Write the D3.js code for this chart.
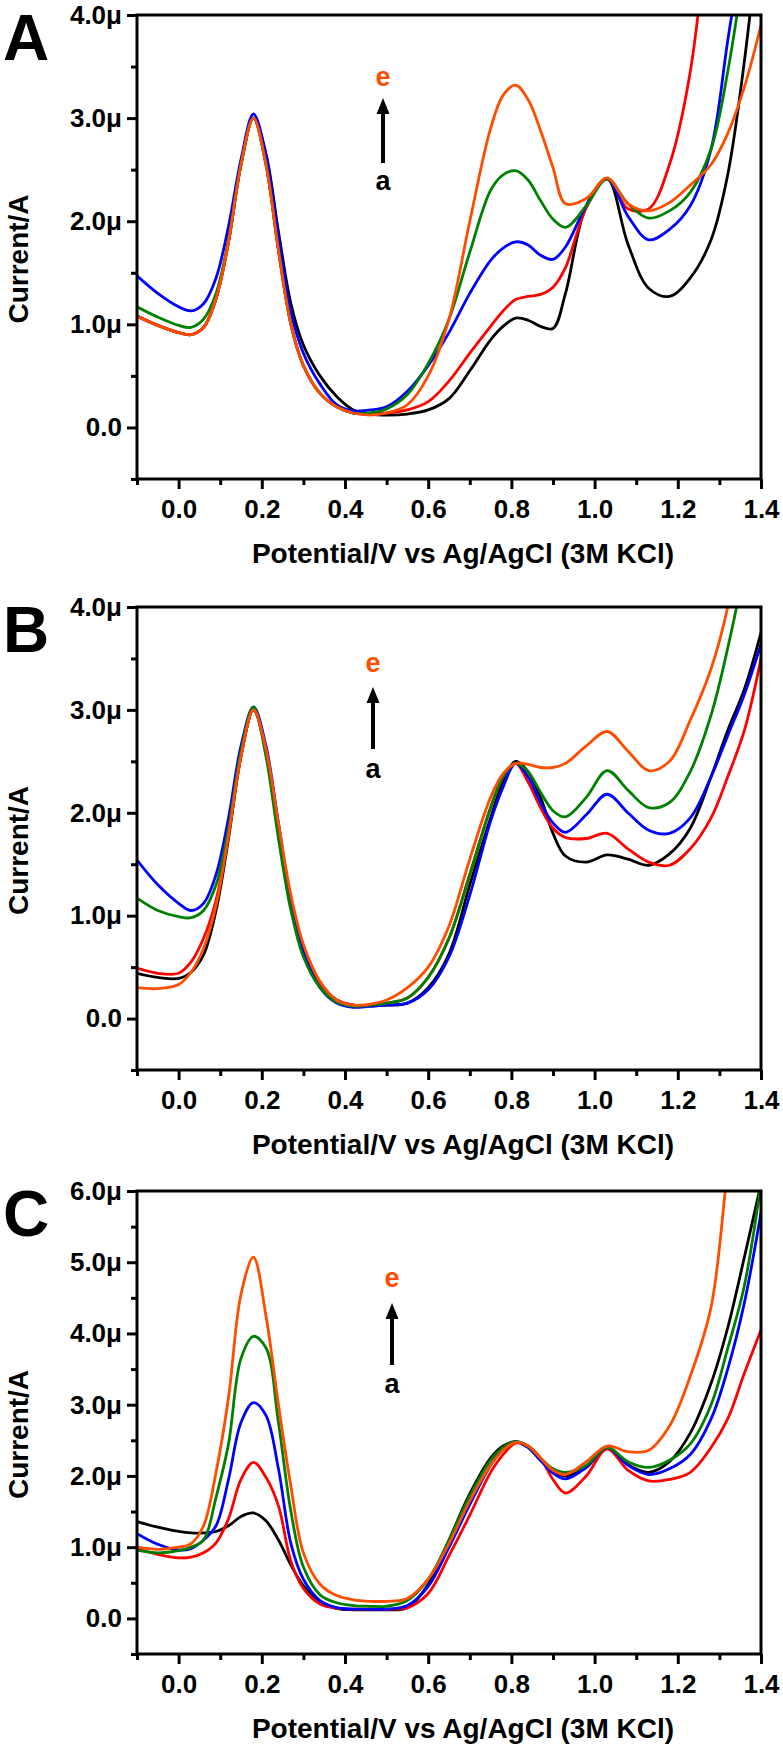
<!DOCTYPE html>
<html>
<head>
  <meta charset="utf-8">
  <script src="https://d3js.org/d3.v7.min.js"></script>
  <style>
    body { margin: 0; background: #fff; }
    svg text { font-family: "Liberation Sans", Arial, sans-serif; font-weight: bold; fill: #000; }
  </style>
</head>
<body>
<script>
// potential (V) sampling points shared by every curve
var potential = [-0.1, -0.05, 0, 0.03, 0.06, 0.09, 0.12, 0.15, 0.18, 0.21, 0.24, 0.27, 0.3, 0.34, 0.38, 0.42,
                 0.46, 0.5, 0.55, 0.6, 0.65, 0.7, 0.75, 0.78, 0.81, 0.84, 0.87, 0.9, 0.93, 0.98, 1.03, 1.08,
                 1.13, 1.18, 1.23, 1.28, 1.32, 1.36, 1.4];

var curveNames = ["a", "b", "c", "d", "e"];
var curveColors = ["#000000", "#ff0000", "#0000ff", "#008000", "#ff4d00"];

// current in µA, panel A
var A_a = [1.08, 0.99, 0.92, 0.9, 0.97, 1.25, 1.8, 2.55, 3.0, 2.65, 1.9, 1.2, 0.8, 0.5, 0.3, 0.17, 0.13, 0.12, 0.13, 0.17, 0.28, 0.55, 0.85, 0.98, 1.06, 1.04, 0.98, 0.96, 1.3, 2.15, 2.41, 1.78, 1.35, 1.27, 1.45, 1.82, 2.45, 3.55, 5.0];
var A_b = [1.08, 0.99, 0.92, 0.9, 0.97, 1.25, 1.8, 2.55, 3.0, 2.55, 1.72, 1.0, 0.6, 0.33, 0.2, 0.14, 0.13, 0.14, 0.17, 0.25, 0.45, 0.72, 0.98, 1.13, 1.24, 1.27, 1.29, 1.36, 1.55, 2.13, 2.41, 2.12, 2.12, 2.55, 3.45, 5.2, 6.8, 8.5, 10];
var A_c = [1.47, 1.3, 1.17, 1.13, 1.2, 1.45, 1.95, 2.6, 3.04, 2.65, 1.85, 1.12, 0.72, 0.42, 0.22, 0.16, 0.17, 0.2, 0.35, 0.6, 0.92, 1.3, 1.62, 1.74, 1.8, 1.77, 1.67, 1.63, 1.75, 2.15, 2.41, 2.05, 1.82, 1.92, 2.15, 2.7, 3.75, 4.8, 6.0];
var A_d = [1.17, 1.07, 0.99, 0.97, 1.05, 1.3, 1.82, 2.55, 3.0, 2.55, 1.72, 1.0, 0.6, 0.33, 0.2, 0.14, 0.14, 0.18, 0.32, 0.62, 1.05, 1.7, 2.3, 2.45, 2.49, 2.4, 2.2, 2.02, 1.94, 2.15, 2.41, 2.17, 2.03, 2.1, 2.28, 2.7, 3.45, 4.5, 5.8];
var A_e = [1.08, 0.99, 0.92, 0.9, 0.97, 1.25, 1.8, 2.55, 3.0, 2.55, 1.72, 1.0, 0.6, 0.33, 0.2, 0.14, 0.12, 0.14, 0.22, 0.5, 1.05, 2.0, 2.9, 3.22, 3.32, 3.18, 2.88, 2.52, 2.17, 2.22, 2.42, 2.17, 2.1, 2.18, 2.35, 2.55, 2.85, 3.3, 3.9];

// panel B
var B_a = [0.44, 0.4, 0.39, 0.45, 0.62, 1.05, 1.75, 2.55, 3.0, 2.6, 1.85, 1.15, 0.7, 0.35, 0.18, 0.13, 0.12, 0.13, 0.15, 0.3, 0.63, 1.3, 1.95, 2.3, 2.5, 2.4, 2.15, 1.8, 1.58, 1.52, 1.59, 1.55, 1.49, 1.6, 1.85, 2.35, 2.8, 3.2, 3.75];
var B_b = [0.49, 0.44, 0.44, 0.55, 0.78, 1.15, 1.8, 2.55, 3.0, 2.6, 1.85, 1.15, 0.7, 0.35, 0.18, 0.13, 0.13, 0.15, 0.2, 0.4, 0.78, 1.4, 2.05, 2.35, 2.48, 2.3, 2.05, 1.85, 1.76, 1.75, 1.8, 1.65, 1.52, 1.49, 1.65, 1.95, 2.35, 2.8, 3.5];
var B_c = [1.54, 1.3, 1.12, 1.05, 1.12, 1.4, 1.95, 2.65, 3.03, 2.65, 1.9, 1.15, 0.65, 0.3, 0.15, 0.11, 0.12, 0.13, 0.15, 0.28, 0.6, 1.2, 1.92, 2.25, 2.48, 2.35, 2.1, 1.9, 1.81, 1.98, 2.18, 2.0, 1.83, 1.8, 1.95, 2.35, 2.75, 3.15, 3.64];
var B_d = [1.17, 1.05, 0.99, 0.98, 1.05, 1.3, 1.85, 2.6, 3.03, 2.55, 1.75, 1.05, 0.6, 0.3, 0.16, 0.12, 0.13, 0.15, 0.2, 0.4, 0.78, 1.4, 2.05, 2.35, 2.48, 2.4, 2.2, 2.02, 1.96, 2.15, 2.41, 2.22, 2.05, 2.1, 2.4, 2.95, 3.6, 4.4, 5.6];
var B_e = [0.3, 0.29, 0.33, 0.45, 0.68, 1.1, 1.78, 2.55, 3.0, 2.62, 1.9, 1.2, 0.72, 0.36, 0.18, 0.13, 0.14, 0.18, 0.3, 0.5, 0.9, 1.55, 2.15, 2.38, 2.48, 2.47, 2.44, 2.44, 2.48, 2.65, 2.79, 2.6, 2.41, 2.5, 2.9, 3.4, 4.0, 5.0, 6.0];

// panel C
var C_a = [1.36, 1.28, 1.22, 1.2, 1.2, 1.22, 1.3, 1.43, 1.48, 1.37, 1.1, 0.75, 0.46, 0.24, 0.14, 0.12, 0.12, 0.12, 0.15, 0.48, 1.1, 1.75, 2.25, 2.42, 2.48, 2.4, 2.22, 2.07, 2.0, 2.12, 2.4, 2.16, 2.05, 2.2, 2.6, 3.3, 4.08, 5.07, 6.1];
var C_b = [0.98, 0.9, 0.85, 0.86, 0.92, 1.06, 1.4, 1.95, 2.19, 1.98, 1.58, 0.8, 0.42, 0.2, 0.14, 0.13, 0.13, 0.13, 0.15, 0.35, 0.88, 1.45, 2.05, 2.3, 2.46, 2.42, 2.25, 1.95, 1.76, 2.0, 2.38, 2.08, 1.93, 1.95, 2.05, 2.4, 2.8, 3.44, 4.05];
var C_c = [1.19, 1.04, 0.96, 0.98, 1.1, 1.3, 1.95, 2.75, 3.03, 2.85, 2.1, 1.05, 0.55, 0.25, 0.15, 0.13, 0.13, 0.13, 0.18, 0.45, 1.0, 1.6, 2.15, 2.38, 2.48, 2.4, 2.22, 2.04, 1.96, 2.12, 2.4, 2.15, 2.02, 2.1, 2.3, 2.8, 3.5, 4.43, 5.7];
var C_d = [0.96, 0.92, 0.95, 1.0, 1.1, 1.7, 2.45, 3.65, 3.96, 3.8, 2.75, 1.5, 0.72, 0.33, 0.22, 0.18, 0.17, 0.17, 0.25, 0.55, 1.1, 1.72, 2.22, 2.4, 2.48, 2.42, 2.25, 2.1, 2.05, 2.15, 2.4, 2.2, 2.12, 2.22, 2.45, 3.0, 3.79, 4.67, 6.1];
var C_e = [1.0, 0.97, 1.0, 1.05, 1.3, 2.05, 3.1, 4.55, 5.07, 4.25, 3.0, 1.85, 0.92, 0.48, 0.32, 0.26, 0.24, 0.24, 0.28, 0.55, 1.05, 1.65, 2.15, 2.36, 2.47, 2.42, 2.25, 2.08, 2.02, 2.2, 2.42, 2.34, 2.36, 2.7, 3.4, 4.37, 6.3, 8.0, 10];

// tick labels
var xTickValues = [0, 0.2, 0.4, 0.6, 0.8, 1.0, 1.2, 1.4];
var xTickLabels = ["0.0", "0.2", "0.4", "0.6", "0.8", "1.0", "1.2", "1.4"];
var xMinorValues = [-0.1, 0.1, 0.3, 0.5, 0.7, 0.9, 1.1, 1.3];
var yTickLabelsAB = ["0.0", "1.0\u03bc", "2.0\u03bc", "3.0\u03bc", "4.0\u03bc"];
var yTickLabelsC = ["0.0", "1.0\u03bc", "2.0\u03bc", "3.0\u03bc", "4.0\u03bc", "5.0\u03bc", "6.0\u03bc"];

var xTitle = "Potential/V vs Ag/AgCl (3M KCl)";
var yTitle = "Current/A";

/*
  page layout
*/
var W = 783, H = 1749;
var plotLeft = 137, plotRight = 761;

var panels = [
  { letter: "A", top: 15,   bottom: 479,  yMax: 4, yLabels: yTickLabelsAB,
    series: [A_a, A_b, A_c, A_d, A_e], ann: { x: 383, e: 64, head: 83, tail: 148, a: 168 } },
  { letter: "B", top: 607,  bottom: 1070, yMax: 4, yLabels: yTickLabelsAB,
    series: [B_a, B_b, B_c, B_d, B_e], ann: { x: 373, e: 58, head: 80, tail: 142, a: 164 } },
  { letter: "C", top: 1191, bottom: 1654, yMax: 6, yLabels: yTickLabelsC,
    series: [C_a, C_b, C_c, C_d, C_e], ann: { x: 392, e: 89, head: 112, tail: 174, a: 195 } }
];

var svg = d3.select("body").append("svg")
    .attr("width", W)
    .attr("height", H);

svg.append("rect")
    .attr("width", W)
    .attr("height", H)
    .attr("fill", "#fff");

var x = d3.scaleLinear().domain([-0.1, 1.4]).range([plotLeft, plotRight]);

panels.forEach(function (p, k) {
  var y = d3.scaleLinear().domain([-0.5, p.yMax]).range([p.bottom, p.top]);
  var g = svg.append("g").attr("class", "panel");

  g.append("clipPath")
      .attr("id", "clip" + k)
    .append("rect")
      .attr("x", plotLeft)
      .attr("y", p.top)
      .attr("width", plotRight - plotLeft)
      .attr("height", p.bottom - p.top);

  var line = d3.line()
      .x(function (d, i) { return x(potential[i]); })
      .y(function (d) { return y(d); })
      .curve(d3.curveCatmullRom.alpha(0.5));

  // curves a..e, e on top
  g.append("g")
      .attr("clip-path", "url(#clip" + k + ")")
    .selectAll("path")
    .data(p.series)
    .enter()
    .append("path")
      .attr("d", line)
      .attr("fill", "none")
      .attr("stroke", function (d, i) { return curveColors[i]; })
      .attr("stroke-width", 2.8)
      .attr("stroke-linejoin", "round");

  // axes, major + minor ticks
  var yMajor = d3.range(0, p.yMax + 1);
  var yMinor = d3.range(-0.5, p.yMax, 1);

  var xAx = g.append("g")
      .attr("transform", "translate(0," + p.bottom + ")")
      .call(d3.axisBottom(x).tickValues(xTickValues).tickSize(10).tickSizeOuter(0).tickPadding(11)
            .tickFormat(function (d, i) { return xTickLabels[i]; }));
  var xMin = g.append("g")
      .attr("transform", "translate(0," + p.bottom + ")")
      .call(d3.axisBottom(x).tickValues(xMinorValues).tickSize(6).tickSizeOuter(0).tickFormat(""));

  var yAx = g.append("g")
      .attr("transform", "translate(" + plotLeft + ",0)")
      .call(d3.axisLeft(y).tickValues(yMajor).tickSize(10).tickSizeOuter(0).tickPadding(5)
            .tickFormat(function (d, i) { return p.yLabels[i]; }));
  var yMin = g.append("g")
      .attr("transform", "translate(" + plotLeft + ",0)")
      .call(d3.axisLeft(y).tickValues(yMinor).tickSize(6).tickSizeOuter(0).tickFormat(""));

  [xAx, xMin, yAx, yMin].forEach(function (a) {
    a.select(".domain").remove();
    a.selectAll(".tick line").attr("stroke", "#000").attr("stroke-width", 3);
    a.selectAll(".tick text")
        .attr("fill", "#000")
        .style("font-size", "26px")
        .style("font-family", '"Liberation Sans", Arial, sans-serif')
        .style("font-weight", "bold");
  });

  // frame
  g.append("rect")
      .attr("x", plotLeft)
      .attr("y", p.top)
      .attr("width", plotRight - plotLeft)
      .attr("height", p.bottom - p.top)
      .attr("fill", "none")
      .attr("stroke", "#000")
      .attr("stroke-width", 3);

  // axis titles
  g.append("text")
      .attr("x", (plotLeft + plotRight) / 2 + 14)
      .attr("y", p.bottom + 84)
      .attr("text-anchor", "middle")
      .style("font-size", "28px")
      .text(xTitle);

  g.append("text")
      .attr("transform", "translate(28," + ((p.top + p.bottom) / 2 + 12) + ") rotate(-90)")
      .attr("text-anchor", "middle")
      .style("font-size", "28px")
      .text(yTitle);

  // panel letter
  g.append("text")
      .attr("x", 3)
      .attr("y", p.top + 45)
      .style("font-size", "64px")
      .text(p.letter);

  // a -> e arrow
  var ax = p.ann.x;
  g.append("text")
      .attr("x", ax)
      .attr("y", p.top + p.ann.e)
      .attr("dy", "0.27em")
      .attr("text-anchor", "middle")
      .style("font-size", "27px")
      .style("fill", curveColors[4])
      .text(curveNames[4]);
  g.append("line")
      .attr("x1", ax).attr("x2", ax)
      .attr("y1", p.top + p.ann.tail)
      .attr("y2", p.top + p.ann.head + 12)
      .attr("stroke", "#000")
      .attr("stroke-width", 4);
  g.append("path")
      .attr("d", "M" + (ax - 6.5) + "," + (p.top + p.ann.head + 16) +
                 "L" + ax + "," + (p.top + p.ann.head) +
                 "L" + (ax + 6.5) + "," + (p.top + p.ann.head + 16) + "Z")
      .attr("fill", "#000");
  g.append("text")
      .attr("x", ax)
      .attr("y", p.top + p.ann.a)
      .attr("dy", "0.27em")
      .attr("text-anchor", "middle")
      .style("font-size", "27px")
      .text(curveNames[0]);
});
</script>
</body>
</html>
